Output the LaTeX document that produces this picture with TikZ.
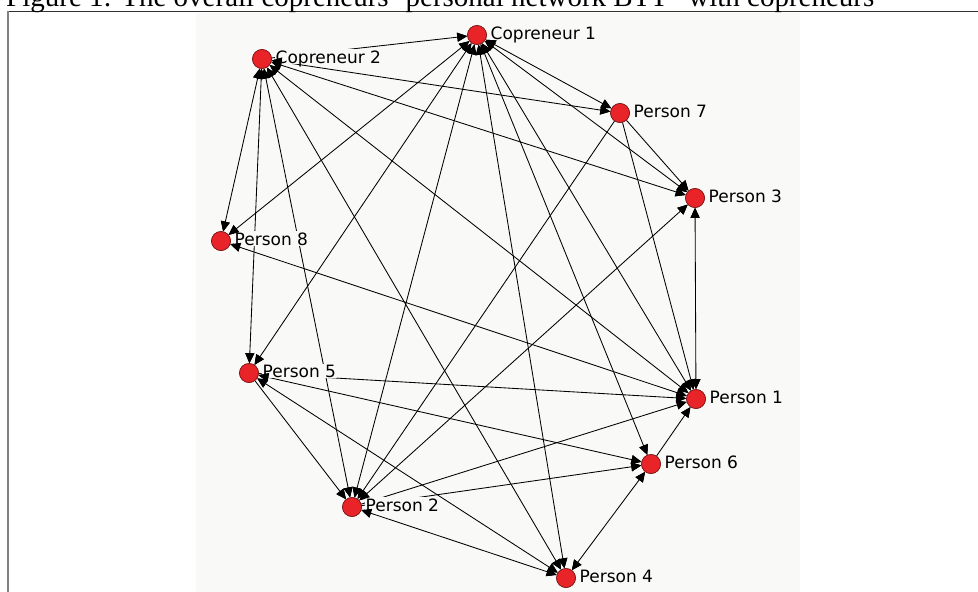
\documentclass[tikz,border=0pt]{standalone}
\usepackage{fontspec}
\setmainfont{Liberation Serif}
\newfontfamily\netfont{DejaVu Sans}
\usetikzlibrary{arrows.meta,calc}

\definecolor{panelbg}{RGB}{249,249,247}
\definecolor{nodered}{RGB}{232,36,40}
\definecolor{nodeedge}{RGB}{120,24,24}
\definecolor{framegray}{RGB}{130,130,130}

% arrowhead drawn again on top of the name labels
\newcommand\headat[2]{\draw[netedge,headtip] ($(#2)!20pt!(#1)$) -- (#2);}

\begin{document}
\begin{tikzpicture}[x=1pt,y=-1pt,
  actor/.style={circle,minimum size=19pt,inner sep=0pt,fill=nodered,draw=nodeedge,line width=0.6pt},
  actorname/.style={anchor=base west,font=\netfont\fontsize{17}{17}\selectfont,
    fill=panelbg,inner xsep=0.5pt,inner ysep=1pt,text depth=0pt},
  netedge/.style={draw=black,line width=0.85pt},
  headtip/.style={-{Triangle[length=10pt,width=9pt]}},
  bothtips/.style={{Triangle[length=10pt,width=9pt]}-{Triangle[length=10pt,width=9pt]}}]

\useasboundingbox (0,0) rectangle (978,592);

% panel and frame
\fill[panelbg] (196,12.5) rectangle (800,592);
\draw[line width=1.3pt,black!80] (8,11.7) -- (978,11.7);
\draw[line width=1.6pt,framegray] (8,11) -- (8,592);

% caption
\node[anchor=base west,inner sep=0pt,font=\fontsize{29}{29}\selectfont] (caption) at (6,6.7)
  {Figure 1: The overall copreneurs’ personal network BTT” with copreneurs”};

% actors
\node[actor] (C1) at (477,35) {};
\node[actor] (C2) at (262,59) {};
\node[actor] (P7) at (620,113) {};
\node[actor] (P3) at (695,198) {};
\node[actor] (P8) at (221,241) {};
\node[actor] (P5) at (249,373) {};
\node[actor] (P1) at (696,399) {};
\node[actor] (P6) at (651,464) {};
\node[actor] (P2) at (352,507) {};
\node[actor] (P4) at (566,578) {};

% one-way ties
\foreach \a/\b in {C2/C1,P7/P3,P7/P1,P5/P1,P2/P1,P6/P1,P2/P6,P7/P2,P5/P2}
  \draw[netedge,headtip] (\a) -- (\b);
% reciprocal ties
\foreach \a/\b in {C1/P7,C2/P7,C1/P3,C2/P3,P1/P3,P2/P3,C1/P1,C2/P1,P8/P1,C1/P6,P4/P6,P5/P6,
                   C1/P4,C2/P4,P2/P4,P5/P4,C1/P2,C2/P2,C1/P5,C2/P5,C1/P8,C2/P8}
  \draw[netedge,bothtips] (\a) -- (\b);

% names
\node[actorname] (C1name) at (490,39) {Copreneur 1};
\node[actorname] (C2name) at (275,63) {Copreneur 2};
\node[actorname] (P7name) at (633,117) {Person 7};
\node[actorname] (P3name) at (708,202) {Person 3};
\node[actorname] (P8name) at (234,245) {Person 8};
\node[actorname] (P5name) at (262,377) {Person 5};
\node[actorname] (P1name) at (709,403) {Person 1};
\node[actorname] (P6name) at (664,468) {Person 6};
\node[actorname] (P2name) at (365,511) {Person 2};
\node[actorname] (P4name) at (579,582) {Person 4};

% arrowheads kept in front of the names
\foreach \a/\b in {C2/C1,P7/P3,P7/P1,P5/P1,P2/P1,P6/P1,P2/P6,P7/P2,P5/P2}
  \headat{\a}{\b};
\foreach \a/\b in {C1/P7,C2/P7,C1/P3,C2/P3,P1/P3,P2/P3,C1/P1,C2/P1,P8/P1,C1/P6,P4/P6,P5/P6,
                   C1/P4,C2/P4,P2/P4,P5/P4,C1/P2,C2/P2,C1/P5,C2/P5,C1/P8,C2/P8}
  {\headat{\a}{\b}\headat{\b}{\a}}

% actors kept in front of the arrowheads
\foreach \n in {C1,C2,P7,P3,P8,P5,P1,P6,P2,P4}
  \fill[nodered,draw=nodeedge,line width=0.6pt] (\n) circle (9.5pt);
\end{tikzpicture}
\end{document}
